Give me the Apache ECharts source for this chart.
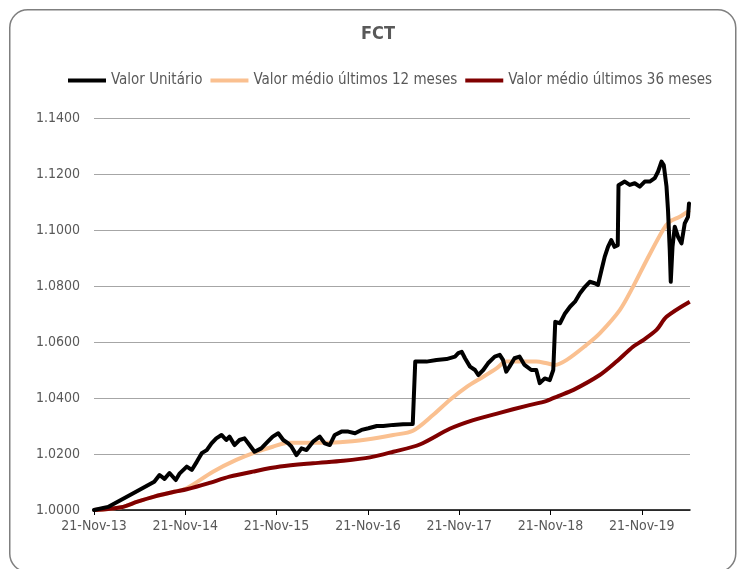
<!DOCTYPE html>
<html>
<head>
<meta charset="utf-8">
<script src="https://cdn.jsdelivr.net/npm/echarts@6/dist/echarts.min.js"></script>
<style>
html,body{margin:0;padding:0;background:#fff;}
#chart{width:738px;height:569px;}
</style>
</head>
<body>
<div id="chart"></div>
<script>
// ---- data ----
var chartTitle = 'FCT';
var seriesNames = ['Valor Unitário', 'Valor médio últimos 12 meses', 'Valor médio últimos 36 meses'];

var unitDates = ['2013-11-21','2014-01-16','2014-04-18','2014-07-20','2014-08-10','2014-08-30','2014-09-19','2014-10-14','2014-10-30',
'2014-11-27','2014-12-17','2015-01-06','2015-01-26','2015-02-15','2015-03-06','2015-03-25','2015-04-15','2015-05-04','2015-05-17',
'2015-06-06','2015-06-26','2015-07-16','2015-08-05','2015-08-25','2015-09-21','2015-10-17','2015-11-06','2015-11-28','2015-12-18',
'2016-01-07','2016-01-20','2016-02-09','2016-02-29','2016-03-20','2016-04-15','2016-05-12','2016-06-01','2016-06-21','2016-07-11',
'2016-08-07','2016-09-03','2016-09-30','2016-10-26','2016-11-23','2016-12-26','2017-01-21','2017-03-02','2017-04-10','2017-05-19',
'2017-05-26','2017-05-29','2017-07-13','2017-08-22','2017-10-01','2017-11-04','2017-11-17','2017-12-01','2017-12-14','2018-01-03',
'2018-01-23','2018-02-05','2018-02-25','2018-03-16','2018-04-12','2018-05-02','2018-05-15','2018-05-28','2018-06-10','2018-06-30',
'2018-07-20','2018-08-09','2018-09-05','2018-09-25','2018-10-09','2018-10-29','2018-11-18','2018-12-02','2018-12-08','2018-12-10',
'2018-12-29','2019-01-18','2019-02-07','2019-02-27','2019-03-19','2019-04-08','2019-04-27','2019-05-17','2019-05-30','2019-06-13',
'2019-06-26','2019-07-09','2019-07-22','2019-08-04','2019-08-17','2019-08-20','2019-08-25','2019-09-14','2019-10-04','2019-10-24',
'2019-11-13','2019-12-03','2019-12-23','2020-01-12','2020-01-25','2020-02-08','2020-02-17','2020-02-28','2020-03-05','2020-03-12',
'2020-03-16','2020-03-23','2020-04-01','2020-04-14','2020-04-28','2020-05-11','2020-05-24','2020-05-28'];
var unitValues = [1.0000,1.0011,1.0055,1.0101,1.0125,1.0111,1.0132,1.0107,1.0131,
1.0155,1.0143,1.0172,1.0203,1.0214,1.0238,1.0256,1.0268,1.0250,1.0262,
1.0232,1.0250,1.0256,1.0232,1.0208,1.0220,1.0244,1.0262,1.0274,1.0250,
1.0238,1.0226,1.0196,1.0220,1.0214,1.0244,1.0262,1.0238,1.0232,1.0268,
1.0280,1.0280,1.0274,1.0286,1.0292,1.0300,1.0300,1.0304,1.0306,1.0307,
1.0308,1.0530,1.0530,1.0536,1.0539,1.0548,1.0560,1.0565,1.0542,1.0512,
1.0500,1.0482,1.0500,1.0524,1.0548,1.0554,1.0536,1.0494,1.0512,1.0542,
1.0548,1.0518,1.0500,1.0500,1.0453,1.0470,1.0464,1.0500,1.0507,1.0672,
1.0667,1.0702,1.0726,1.0744,1.0774,1.0797,1.0815,1.0810,1.0804,1.0857,
1.0905,1.0940,1.0964,1.0940,1.0946,1.1160,1.1167,1.1173,1.1161,1.1167,
1.1155,1.1173,1.1173,1.1185,1.1208,1.1244,1.1232,1.1155,1.1071,1.0929,
1.0815,1.0940,1.1012,1.0976,1.0952,1.1024,1.1047,1.1095];

var avg12Dates = ['2013-11-21','2014-03-10','2014-05-14','2014-07-20','2014-10-08','2014-11-27','2015-03-12','2015-06-13','2015-09-02',
'2015-11-06','2016-01-07','2016-04-15','2016-07-31','2016-11-16','2017-03-02','2017-05-20','2017-08-08','2017-10-14','2017-12-21',
'2018-02-25','2018-04-19','2018-05-28','2018-07-20','2018-09-25','2018-11-06','2018-12-09','2019-01-25','2019-04-13','2019-06-06',
'2019-08-25','2019-10-17','2019-12-11','2020-02-14','2020-03-12','2020-04-21','2020-05-31'];
var avg12Values = [1.0000,1.0010,1.0030,1.0048,1.0065,1.0078,1.0137,1.0179,1.0208,
1.0226,1.0240,1.0240,1.0242,1.0252,1.0268,1.0283,1.0339,1.0393,1.0440,
1.0476,1.0506,1.0530,1.0530,1.0530,1.0524,1.0518,1.0536,1.0589,1.0631,
1.0714,1.0797,1.0893,1.1000,1.1030,1.1047,1.1071];

var avg36Dates = ['2013-11-21','2014-03-10','2014-05-14','2014-07-20','2014-10-08','2014-11-27','2015-02-20','2015-05-17','2015-08-18',
'2015-12-05','2016-04-15','2016-08-14','2016-11-29','2017-03-02','2017-06-16','2017-10-14','2018-01-16','2018-05-02','2018-08-17',
'2018-11-06','2018-12-22','2019-02-21','2019-06-06','2019-08-12','2019-10-17','2019-11-27','2020-01-19','2020-02-28','2020-05-31'];
var avg36Values = [1.0000,1.0010,1.0030,1.0048,1.0065,1.0074,1.0095,1.0119,1.0137,
1.0155,1.0167,1.0176,1.0188,1.0208,1.0234,1.0290,1.0321,1.0347,1.0372,
1.0390,1.0407,1.0429,1.0482,1.0530,1.0583,1.0607,1.0643,1.0690,1.0744];

var xTickDates = ['2013-11-21','2014-11-21','2015-11-21','2016-11-21','2017-11-21','2018-11-21','2019-11-21'];
var xMinDate = '2013-11-21';
var xMaxDate = '2020-06-01';
var yMin = 1.00, yMax = 1.14, yStep = 0.02;

// ---- helpers ----
function ts(s){ var p = s.split('-'); return Date.UTC(+p[0], +p[1]-1, +p[2]); }
var MONTHS = ['Jan','Feb','Mar','Apr','May','Jun','Jul','Aug','Sep','Oct','Nov','Dec'];
function fmtDate(v){
  var d = new Date(v);
  var y = String(d.getUTCFullYear()).slice(2);
  return d.getUTCDate() + '-' + MONTHS[d.getUTCMonth()] + '-' + y;
}
function pairs(dates, vals){ return dates.map(function(d,i){ return [ts(d), vals[i]]; }); }

var FONT = 'DejaVu Sans Condensed';
var TXT = '#595959';
var tickVals = xTickDates.map(ts);
var chart = echarts.init(document.getElementById('chart'), null, {renderer:'canvas'});
chart.setOption({
  animation: false,
  backgroundColor: '#ffffff',
  graphic: [{
    type: 'rect', left: 9, top: 9, z: -10,
    shape: {width: 726, height: 562, r: 18},
    style: {fill: '#ffffff', stroke: '#7f7f7f', lineWidth: 1.5}
  }],
  title: {
    text: chartTitle, left: 356, top: 20,
    textStyle: {fontFamily: FONT, fontSize: 18, fontWeight: 'bold', color: TXT}
  },
  legend: {
    top: 68, left: 63,
    icon: 'rect', itemWidth: 38, itemHeight: 4, itemGap: 8,
    textStyle: {fontFamily: FONT, fontSize: 15, color: TXT},
    data: seriesNames
  },
  grid: {left: 94, right: 48, top: 118, bottom: 59, containLabel: false},
  xAxis: {
    type: 'value',
    min: ts(xMinDate), max: ts(xMaxDate),
    axisLine: {show: true, lineStyle: {color: '#000000', width: 1.5}},
    axisTick: {show: true, length: 5, lineStyle: {color: '#000000'}, customValues: tickVals},
    axisLabel: {
      customValues: tickVals,
      formatter: function(v){ return fmtDate(v); },
      fontFamily: FONT, fontSize: 14, color: TXT, margin: 9
    },
    splitLine: {show: false}
  },
  yAxis: {
    type: 'value', min: yMin, max: yMax, interval: yStep,
    axisLine: {show: false}, axisTick: {show: false},
    axisLabel: {formatter: function(v){ return v.toFixed(4); }, fontFamily: FONT, fontSize: 14, color: TXT, margin: 14},
    splitLine: {lineStyle: {color: '#a6a6a6', width: 1}}
  },
  series: [
    {name: seriesNames[1], type: 'line', showSymbol: false, symbol: 'none', z: 2,
     data: pairs(avg12Dates, avg12Values), smooth: 0.3,
     itemStyle: {color: '#fac090'}, lineStyle: {color: '#fac090', width: 4}},
    {name: seriesNames[2], type: 'line', showSymbol: false, symbol: 'none', z: 3,
     data: pairs(avg36Dates, avg36Values), smooth: 0.3,
     itemStyle: {color: '#800000'}, lineStyle: {color: '#800000', width: 4}},
    {name: seriesNames[0], type: 'line', showSymbol: false, symbol: 'none', z: 4,
     data: pairs(unitDates, unitValues),
     itemStyle: {color: '#000000'}, lineStyle: {color: '#000000', width: 4, join: 'round', cap: 'round'}}
  ]
});
</script>
</body>
</html>
